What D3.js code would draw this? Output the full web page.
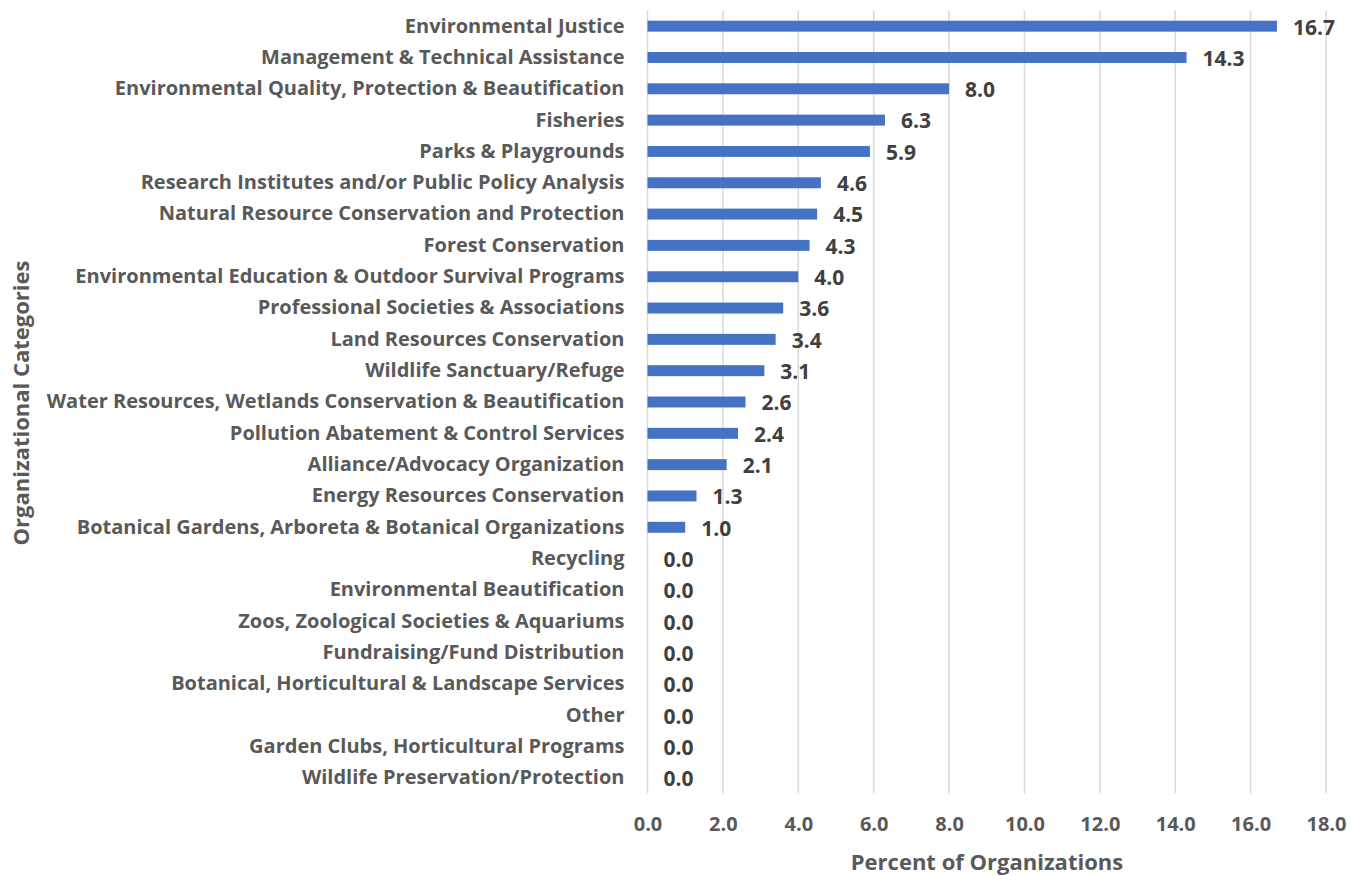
<!DOCTYPE html>
<html>
<head>
<meta charset="utf-8">
<script src="https://cdn.jsdelivr.net/npm/d3@7"></script>
<style>
  body { margin: 0; background: #fff; }
  svg text { font-family: "Open Sans", sans-serif; font-weight: bold; }
</style>
</head>
<body>
<svg id="chart" width="1351" height="875"></svg>
<script>
var categories = [
  'Environmental Justice',
  'Management & Technical Assistance',
  'Environmental Quality, Protection & Beautification',
  'Fisheries',
  'Parks & Playgrounds',
  'Research Institutes and/or Public Policy Analysis',
  'Natural Resource Conservation and Protection',
  'Forest Conservation',
  'Environmental Education & Outdoor Survival Programs',
  'Professional Societies & Associations',
  'Land Resources Conservation',
  'Wildlife Sanctuary/Refuge',
  'Water Resources, Wetlands Conservation & Beautification',
  'Pollution Abatement & Control Services',
  'Alliance/Advocacy Organization',
  'Energy Resources Conservation',
  'Botanical Gardens, Arboreta & Botanical Organizations',
  'Recycling',
  'Environmental Beautification',
  'Zoos, Zoological Societies & Aquariums',
  'Fundraising/Fund Distribution',
  'Botanical, Horticultural & Landscape Services',
  'Other',
  'Garden Clubs, Horticultural Programs',
  'Wildlife Preservation/Protection'
];
var percents = [16.7, 14.3, 8.0, 6.3, 5.9, 4.6, 4.5, 4.3, 4.0, 3.6, 3.4, 3.1, 2.6, 2.4, 2.1, 1.3, 1.0, 0, 0, 0, 0, 0, 0, 0, 0];
var xTicks = [0, 2, 4, 6, 8, 10, 12, 14, 16, 18];

var svg = d3.select('#chart');

var x = d3.scaleLinear().domain([0, 18]).range([647.5, 1326]);
var y = d3.scaleBand().domain(categories).range([10.5, 793.5]).paddingInner(0.65).paddingOuter(0.325);

// gridlines
svg.append('g').selectAll('line')
  .data(xTicks).enter()
  .append('line')
    .attr('x1', function(d) { return x(d); })
    .attr('x2', function(d) { return x(d); })
    .attr('y1', 10.5)
    .attr('y2', 793.5)
    .attr('stroke', '#d9d9d9')
    .attr('stroke-width', 1.5);

// bars
svg.append('g').selectAll('rect')
  .data(percents).enter()
  .append('rect')
    .attr('x', x(0))
    .attr('y', function(d, i) { return y(categories[i]); })
    .attr('width', function(d) { return x(d) - x(0); })
    .attr('height', y.bandwidth())
    .attr('fill', '#4472c4');

// value labels
svg.append('g').selectAll('text')
  .data(percents).enter()
  .append('text')
    .attr('x', function(d) { return x(d) + 16; })
    .attr('y', function(d, i) { return y(categories[i]) + y.bandwidth() / 2 + 1; })
    .attr('dy', '0.35em')
    .attr('font-size', 21)
    .attr('fill', '#404040')
    .text(function(d) { return d3.format('.1f')(d); });

// category axis
var yAxis = svg.append('g')
  .attr('transform', 'translate(' + x(0) + ',0)')
  .call(d3.axisLeft(y).tickSize(0).tickPadding(23));
yAxis.select('.domain').remove();
yAxis.selectAll('text')
  .attr('font-size', 20)
  .attr('fill', '#595959')
  .style('font-family', '"Open Sans", sans-serif');

// value axis
var xAxis = svg.append('g')
  .attr('transform', 'translate(0,793.5)')
  .call(d3.axisBottom(x).tickValues(xTicks).tickSize(0).tickPadding(23).tickFormat(d3.format('.1f')));
xAxis.select('.domain').remove();
xAxis.selectAll('text')
  .attr('font-size', 20)
  .attr('fill', '#595959')
  .style('font-family', '"Open Sans", sans-serif');

// axis titles
svg.append('text')
  .attr('x', 987)
  .attr('y', 870)
  .attr('text-anchor', 'middle')
  .attr('font-size', 22)
  .attr('fill', '#595959')
  .text('Percent of Organizations');

svg.append('text')
  .attr('transform', 'translate(29,403) rotate(-90)')
  .attr('text-anchor', 'middle')
  .attr('font-size', 22)
  .attr('fill', '#595959')
  .text('Organizational Categories');
</script>
</body>
</html>
